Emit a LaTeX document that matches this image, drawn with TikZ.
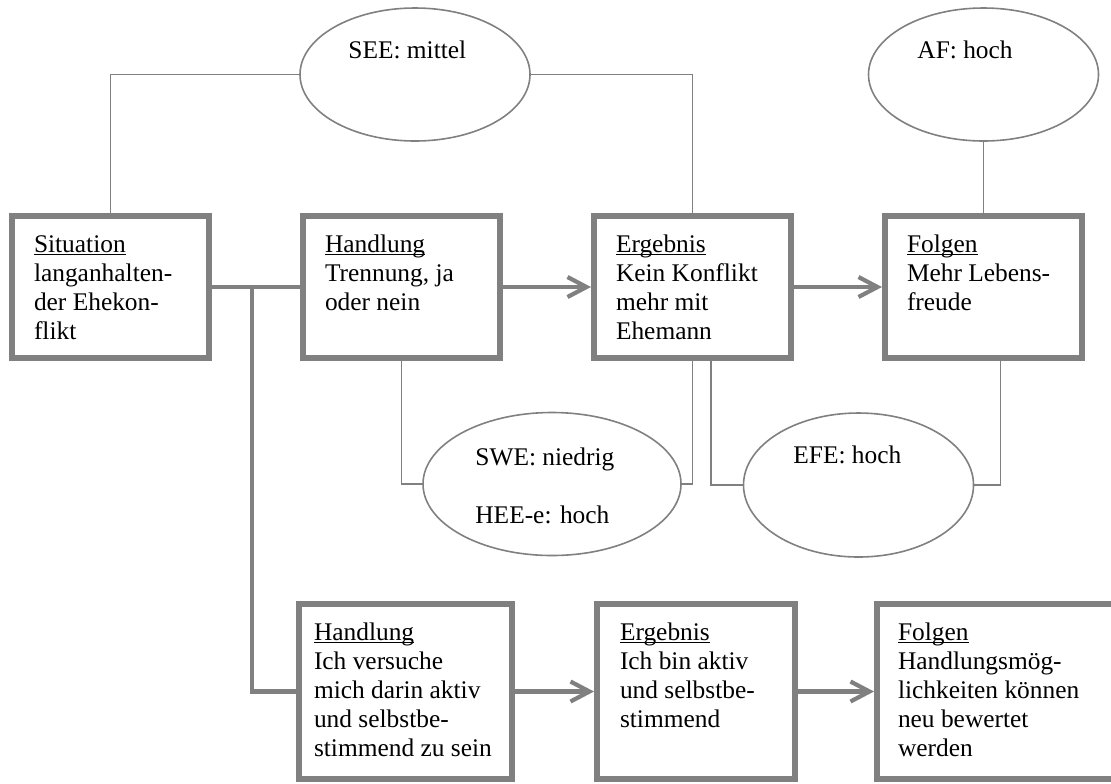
\documentclass[tikz,border=0pt]{standalone}
\usepackage{fontspec}
\setmainfont{Liberation Serif}
\usetikzlibrary{positioning, arrows.meta, shapes.geometric}
\definecolor{grau}{RGB}{128,128,128}
\tikzstyle{feld}=[draw=grau, line width=3pt, inner xsep=11pt, inner ysep=0pt,
                  text height=18pt, text depth=53pt]
\tikzstyle{feldunten}=[feld, text depth=69.5pt]
\tikzstyle{oval}=[draw=grau, ellipse, line width=0.8pt, inner sep=0pt,
                  minimum width=115pt, minimum height=66.5pt]
\tikzstyle{notiz}=[anchor=base west, inner sep=0pt]
\tikzstyle{linie}=[draw=grau, line width=0.85pt]
\tikzstyle{dick}=[draw=grau, line width=2.1pt]
\tikzstyle{pfeil}=[-{Straight Barb[length=9.5pt, width=10pt]}, draw=grau, line width=2.1pt]
\newcommand{\feldtext}[3]{\parbox[t]{#1}{\raggedright\underline{\smash{#2}}\\#3}}

\begin{document}
\begin{tikzpicture}[x=0.5pt, y=-0.5pt, node distance=44pt,
                    font=\fontsize{12.7pt}{14.5pt}\selectfont]
    \useasboundingbox (0,0) rectangle (1111,783);
    \node[feld, anchor=north west] (sit) at (9,213)
        {\feldtext{76.5pt}{Situation}{langanhalten-\\der Ehekon-\\flikt}};
    \node[feld, right=of sit] (hdl) {\feldtext{76.5pt}{Handlung}{Trennung, ja\\oder nein}};
    \node[feld, right=of hdl] (erg) {\feldtext{76.5pt}{Ergebnis}{Kein Konflikt\\mehr mit\\Ehemann}};
    \node[feld, right=of erg] (fol) {\feldtext{76.5pt}{Folgen}{Mehr Lebens-\\freude}};
    \node[feldunten, inner xsep=7.5pt, anchor=north west] (hdl2) at (296,601)
        {\feldtext{91.5pt}{Handlung}{Ich versuche\\mich darin aktiv\\und selbstbe-\\stimmend zu sein}};
    \node[feldunten, inner xsep=11.5pt, right=39.5pt of hdl2] (erg2)
        {\feldtext{76pt}{Ergebnis}{Ich bin aktiv\\und selbstbe-\\stimmend}};
    \node[feldunten, inner xsep=10.5pt, right=38pt of erg2] (fol2)
        {\feldtext{110pt}{Folgen}{Handlungsmög-\\lichkeiten können\\neu bewertet\\werden}};

    \node[oval] (see) at (415,74.5) {};
    \node[oval] (af) at (983.5,74.5) {};
    \node[oval, minimum width=129pt, minimum height=71.5pt] (swe) at (552,484) {};
    \node[oval, minimum height=72pt] (efe) at (858.5,485) {};
    \node[notiz] (seetxt) at (348,58) {SEE: mittel};
    \node[notiz] (aftxt) at (917,58) {AF: hoch};
    \node[notiz] (swetxt) at (475,465) {SWE: niedrig};
    \node[notiz] (heetxt) at (475,523) {HEE-e: hoch};
    \node[notiz] (efetxt) at (793,463) {EFE: hoch};

    \draw[linie] (sit.north) |- (see.west); \draw[linie] (see.east) -| (erg.north);
    \draw[linie] (af.south) -- (fol.north);
    \draw[linie] (hdl.south) |- (swe.west); \draw[linie] (erg.south) |- (swe.east);
    \draw[linie] ([xshift=9.25pt]erg.south) |- (efe.west);
    \draw[linie] ([xshift=8.5pt]fol.south) |- (efe.east);

    \coordinate (abzw) at (252,287);
    \draw[dick] (sit) -- (hdl); \draw[dick] (abzw) |- (hdl2);
    \draw[pfeil] (hdl) -- (erg); \draw[pfeil] (erg) -- (fol);
    \draw[pfeil] (hdl2) -- (erg2); \draw[pfeil] (erg2) -- (fol2);
\end{tikzpicture}
\end{document}
